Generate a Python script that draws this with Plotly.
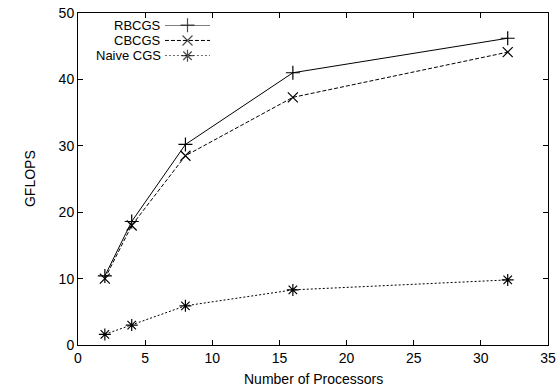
import plotly.graph_objects as go

processors = [2, 4, 8, 16, 32]
rbcgs = [10.4, 18.6, 30.2, 41.0, 46.2]
cbcgs = [10.0, 18.0, 28.5, 37.3, 44.1]
naive = [1.6, 3.0, 5.9, 8.3, 9.8]
series_names = ["RBCGS", "CBCGS", "Naive CGS"]
x_ticks = [0, 5, 10, 15, 20, 25, 30, 35]
y_ticks = [0, 10, 20, 30, 40, 50]

styles = [
    dict(dash="solid", symbol="cross-thin-open"),
    dict(dash="4px,2px", symbol="x-thin-open"),
    dict(dash="2px,2px", symbol="asterisk-open"),
]
FONT = "Liberation Sans, Arial, sans-serif"
FS = 14
MS = 10

fig = go.Figure()
for name, ys, st in zip(series_names, [rbcgs, cbcgs, naive], styles):
    fig.add_trace(go.Scatter(
        x=processors, y=ys, mode="lines+markers", name=name,
        line=dict(color="black", width=1, dash=st["dash"]),
        marker=dict(symbol=st["symbol"], size=MS, color="black",
                    line=dict(color="black", width=1.2)),
        showlegend=False, cliponaxis=False,
    ))

# gnuplot-style legend: text on the left, sample on the right (legend axes)
LEG_TOP, LEG_STEP = 0.9633, 0.046
for i, (name, st) in enumerate(zip(series_names, styles)):
    yk = 1 - i
    fig.add_trace(go.Scatter(
        x=[0, 0.5, 1], y=[yk, yk, yk], mode="lines+markers",
        xaxis="x2", yaxis="y2", showlegend=False, hoverinfo="skip",
        cliponaxis=False,
        line=dict(color="black", width=1, dash=st["dash"]),
        marker=dict(symbol=st["symbol"], size=[0, MS, 0], color="black",
                    line=dict(color="black", width=1.2)),
    ))
    fig.add_annotation(x=0.179, y=LEG_TOP - i * LEG_STEP, xref="paper", yref="paper",
                       text=name, showarrow=False, xanchor="right", yanchor="middle",
                       borderpad=0,
                       font=dict(family=FONT, size=13, color="black"))

# axis titles
fig.add_annotation(x=0.5, y=-0.101, xref="paper", yref="paper",
                   text="Number of Processors", showarrow=False,
                   xanchor="center", yanchor="middle",
                   font=dict(family=FONT, size=FS, color="black"))
fig.add_annotation(x=-0.102, y=0.5, xref="paper", yref="paper",
                   text="GFLOPS", showarrow=False, textangle=-90,
                   xanchor="center", yanchor="middle",
                   font=dict(family=FONT, size=FS, color="black"))

axis_common = dict(
    showline=True, linecolor="black", linewidth=1, mirror="allticks",
    ticks="inside", ticklen=5, tickcolor="black", tickwidth=1,
    showgrid=False, zeroline=False, automargin=False,
    tickfont=dict(family=FONT, size=FS, color="black"),
)
fig.update_layout(
    width=556, height=388,
    margin=dict(l=78, r=8, t=13, b=42.5),
    paper_bgcolor="white", plot_bgcolor="white",
    xaxis=dict(range=[0, 35], tickvals=x_ticks, **axis_common),
    yaxis=dict(range=[0, 50], tickvals=y_ticks, **axis_common),
    xaxis2=dict(domain=[0.185, 0.281], range=[0, 1], visible=False, anchor="y2"),
    yaxis2=dict(domain=[LEG_TOP - 2 * LEG_STEP, LEG_TOP], range=[-1, 1],
                visible=False, anchor="x2"),
)
fig.write_html("out.html")
